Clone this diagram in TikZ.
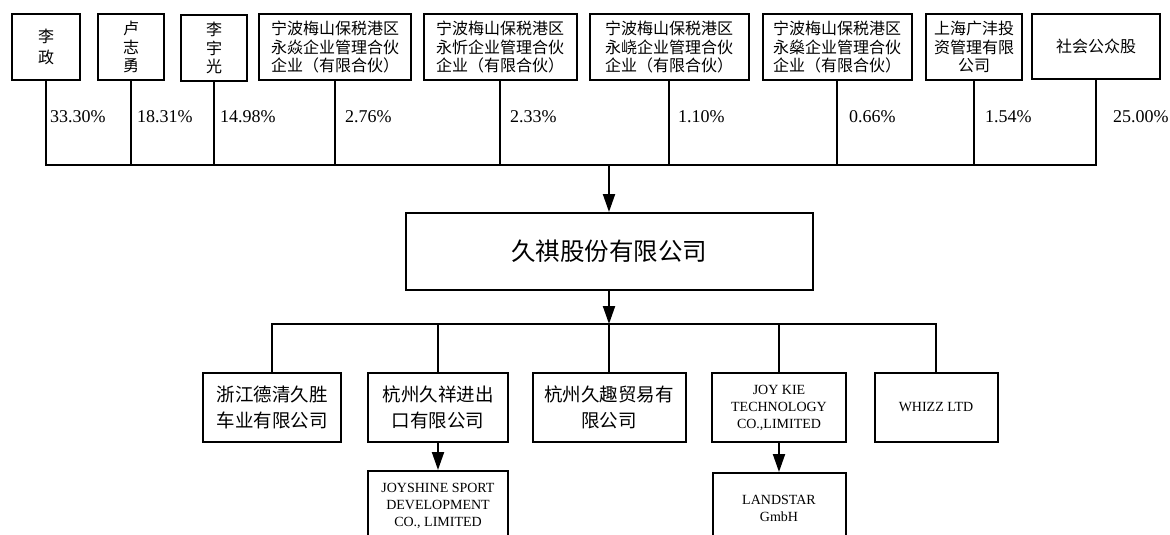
\documentclass[tikz,border=0pt]{standalone}
\usepackage{fontspec}
\setmainfont{Liberation Serif}
\newfontfamily\cjkfont{Noto Sans CJK SC}
\usepackage{tikz}
\usetikzlibrary{arrows.meta,positioning}
\tikzset{
  OrgBox/.style={
    draw, line width=2pt,
    inner sep=0pt, align=center
  },
  HolderBox/.style={OrgBox, minimum height=66pt,
    font=\cjkfont\fontsize{16}{18.5}\selectfont},
  MainBox/.style={OrgBox, minimum width=407pt, minimum height=77pt,
    font=\cjkfont\fontsize{24.5}{27}\selectfont},
  SubBox/.style={OrgBox, minimum height=69pt,
    font=\cjkfont\fontsize{18.5}{26}\selectfont},
  EnBox/.style={OrgBox, minimum height=69pt,
    font=\fontsize{14}{17}\selectfont},
  Link/.style={line width=2pt},
  LinkArrow/.style={Link, -{Triangle[length=18pt,width=12pt]}},
  Pct/.style={anchor=west, inner sep=0pt, font=\fontsize{18}{20}\selectfont}
}

\begin{document}
\begin{tikzpicture}[x=1pt, y=-1pt, line join=miter]
  \useasboundingbox (0,0) rectangle (1170,535);

  % shareholders
  \node[HolderBox, minimum width=68pt] (lizheng) at (46,47) {李\\[3pt]政};
  \node[HolderBox, minimum width=66pt] (luzhiyong) at (131,47) {卢\\志\\勇};
  \node[HolderBox, minimum width=66pt] (liyuguang) at (214,48) {李\\宇\\光};
  \node[HolderBox, minimum width=152pt] (yongyan) at (335,47.5)
    {宁波梅山保税港区\\永焱企业管理合伙\\企业（有限合伙）};
  \node[HolderBox, minimum width=153pt] (yongxin) at (500,47.5)
    {宁波梅山保税港区\\永忻企业管理合伙\\企业（有限合伙）};
  \node[HolderBox, minimum width=159pt] (yongyao) at (669,47.5)
    {宁波梅山保税港区\\永峣企业管理合伙\\企业（有限合伙）};
  \node[HolderBox, minimum width=149pt] (yongshen) at (837,47.5)
    {宁波梅山保税港区\\永燊企业管理合伙\\企业（有限合伙）};
  \node[HolderBox, minimum width=96pt] (guangfeng) at (974,47)
    {上海广沣投\\资管理有限\\公司};
  \node[HolderBox, minimum width=128pt, minimum height=65pt] (public) at (1096,46.5)
    {社会公众股};

  % shareholding percentages
  \node[Pct] (pctA) at (50,117) {33.30\%};
  \node[Pct] (pctB) at (137,117) {18.31\%};
  \node[Pct] (pctC) at (220,117) {14.98\%};
  \node[Pct] (pctD) at (345,117) {2.76\%};
  \node[Pct] (pctE) at (510,117) {2.33\%};
  \node[Pct] (pctF) at (678,117) {1.10\%};
  \node[Pct] (pctG) at (849,117) {0.66\%};
  \node[Pct] (pctH) at (985,117) {1.54\%};
  \node[Pct] (pctI) at (1113,117) {25.00\%};

  % the company
  \node[MainBox] (jiuqi) at (609,251.5) {久祺股份有限公司};

  % subsidiaries
  \node[SubBox, minimum width=138pt] (shengche) at (272,407.5)
    {浙江德清久胜\\车业有限公司};
  \node[SubBox, minimum width=140pt] (jiuxiang) at (438,407.5)
    {杭州久祥进出\\口有限公司};
  \node[SubBox, minimum width=153pt] (jiuqu) at (609,407.5)
    {杭州久趣贸易有\\限公司};
  \node[EnBox, minimum width=134pt] (joykie) at (779,407.5)
    {JOY KIE\\TECHNOLOGY\\CO.,LIMITED};
  \node[EnBox, minimum width=123pt] (whizz) at (936,407.5) {WHIZZ LTD};
  \node[EnBox, minimum width=140pt, minimum height=70pt] (joyshine) at (438,506)
    {JOYSHINE SPORT\\DEVELOPMENT\\CO., LIMITED};
  \node[EnBox, minimum width=133pt, minimum height=70pt] (landstar) at (779,508)
    {LANDSTAR\\GmbH};

  % upper bus
  \coordinate (topbus) at (609,165);
  \draw[Link] (lizheng.south) |- (topbus) -| (public.south);
  \foreach \n in {luzhiyong,liyuguang,yongyan,yongxin,yongyao,yongshen,guangfeng}
    \draw[Link] (\n.south) -- (\n.south |- topbus);
  \draw[LinkArrow] (topbus) -- (jiuqi.north);

  % lower bus
  \coordinate (lowbus) at (609,324);
  \draw[LinkArrow] (jiuqi.south) -- (lowbus);
  \draw[Link] (shengche.north) |- (lowbus) -| (whizz.north);
  \foreach \n in {jiuxiang,jiuqu,joykie}
    \draw[Link] (\n.north) -- (\n.north |- lowbus);

  \draw[LinkArrow] (jiuxiang.south) -- (joyshine.north);
  \draw[LinkArrow] (joykie.south) -- (landstar.north);
\end{tikzpicture}
\end{document}
